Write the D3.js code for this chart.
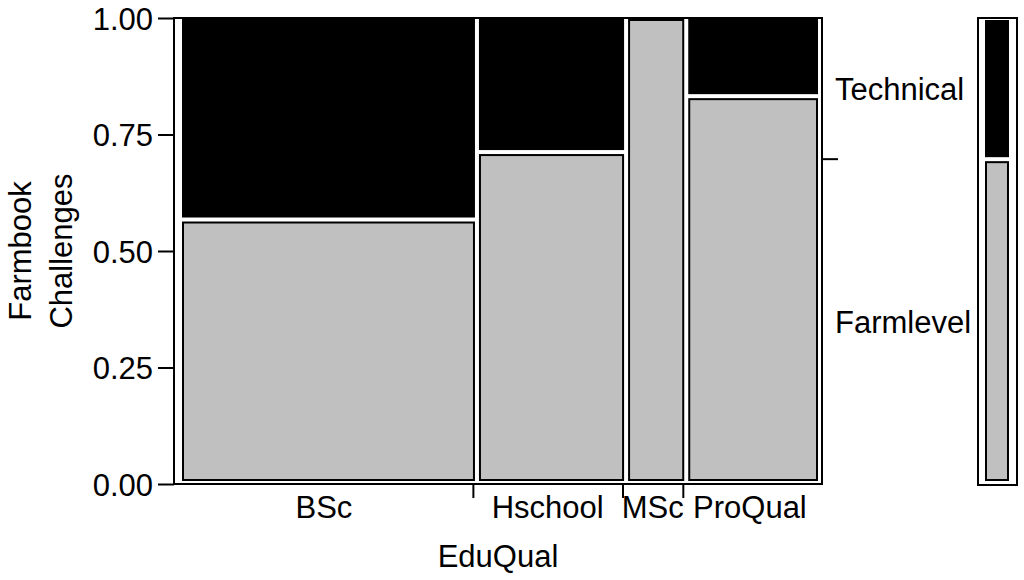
<!DOCTYPE html>
<html><head><meta charset="utf-8">
<script src="https://cdn.jsdelivr.net/npm/d3@7"></script>
<style>body{margin:0;background:#fff}svg{display:block}text{font-family:"Liberation Sans",Arial,sans-serif;fill:#000}</style>
</head><body><svg id="c" width="1024" height="580"></svg>
<script>
// Data
const categories = ["BSc", "Hschool", "MSc", "ProQual"];
const columnShare = [0.464, 0.233, 0.094, 0.209];      // share of EduQual
const farmlevelShare = [0.566, 0.712, 1.0, 0.833];    // share of Farmlevel within each EduQual
const levels = ["Farmlevel", "Technical"];
const yTicks = [0, 0.25, 0.5, 0.75, 1];
const xTitle = "EduQual";
const yTitle = ["Farmbook", "Challenges"];

const svg = d3.select("#c");
const FS = 31;
const cum = [0];
columnShare.forEach((s, i) => cum.push(cum[i] + s));
const overall = d3.sum(columnShare.map((s, i) => s * farmlevelShare[i]));

const frame = {x0: 174, x1: 822, y0: 18, y1: 484};
const yAxisScale = d3.scaleLinear().domain([0, 1]).range([frame.y1, frame.y0]);
const xTickScale = d3.scaleLinear().domain([0, 1]).range([175, 817]);
const xCell = d3.scaleLinear().domain([0, 1]).range([182, 822]);
const yCell = d3.scaleLinear().domain([0, 1]).range([481, 19]);
const gap = 4;

// cells
const g = svg.append("g");
categories.forEach((c, i) => {
  const x0 = xCell(cum[i]), x1 = xCell(cum[i + 1]) - gap;
  const yb = yCell(farmlevelShare[i]);
  if (farmlevelShare[i] < 1) {
    g.append("rect").attr("x", x0).attr("y", yCell(1)).attr("width", x1 - x0)
      .attr("height", yb - gap / 2 - yCell(1)).attr("fill", "#000");
  }
  const gt = farmlevelShare[i] < 1 ? yb + gap / 2 : yCell(1);
  g.append("rect").attr("x", x0 + 1).attr("y", gt + 1).attr("width", x1 - x0 - 2)
    .attr("height", yCell(0) - gt - 2).attr("fill", "#c0c0c0")
    .attr("stroke", "#000").attr("stroke-width", 2);
});

// frame
svg.append("rect").attr("x", frame.x0).attr("y", frame.y0)
  .attr("width", frame.x1 - frame.x0).attr("height", frame.y1 - frame.y0)
  .attr("fill", "none").attr("stroke", "#000").attr("stroke-width", 2);

// y axis
const ya = svg.append("g").attr("transform", `translate(${frame.x0},0)`)
  .call(d3.axisLeft(yAxisScale).tickValues(yTicks).tickFormat(d3.format(".2f")).tickSize(16).tickPadding(5));
ya.select(".domain").remove();
ya.selectAll(".tick line").attr("stroke", "#000").attr("stroke-width", 2);
ya.selectAll(".tick text").attr("font-size", FS).attr("font-family", "Liberation Sans, Arial, sans-serif")
  .attr("dy", null).attr("y", 11).attr("fill", "#000");

// x axis ticks at interior boundaries
const xa = svg.append("g").attr("transform", `translate(0,${frame.y1})`)
  .call(d3.axisBottom(xTickScale).tickValues(cum.slice(1, -1)).tickSize(14).tickFormat(""));
xa.select(".domain").remove();
xa.selectAll(".tick line").attr("stroke", "#000").attr("stroke-width", 2);

// category labels
svg.append("g").selectAll("text").data(categories).join("text")
  .attr("x", (d, i) => (xTickScale(cum[i]) + xTickScale(cum[i + 1])) / 2)
  .attr("y", 518).attr("text-anchor", "middle").attr("font-size", FS).text(d => d);

// axis titles
svg.append("text").attr("x", (frame.x0 + frame.x1) / 2).attr("y", 567)
  .attr("text-anchor", "middle").attr("font-size", FS).text(xTitle);
[31, 72].forEach((bx, i) => {
  svg.append("text").attr("transform", `translate(${bx},251) rotate(-90)`)
    .attr("text-anchor", "middle").attr("font-size", FS).text(yTitle[i]);
});

// right axis: level labels and tick
const yo = yCell(overall);
svg.append("line").attr("x1", frame.x1).attr("x2", 838).attr("y1", yo).attr("y2", yo)
  .attr("stroke", "#000").attr("stroke-width", 2);
svg.append("text").attr("x", 835).attr("y", (frame.y0 + yo) / 2 + 11)
  .attr("font-size", FS).text(levels[1]);
svg.append("text").attr("x", 835).attr("y", (yo + frame.y1) / 2 + 11)
  .attr("font-size", FS).text(levels[0]);

// marginal bar
svg.append("rect").attr("x", 978).attr("y", 18).attr("width", 39).attr("height", 467)
  .attr("fill", "none").attr("stroke", "#000").attr("stroke-width", 2);
svg.append("rect").attr("x", 985).attr("y", yCell(1) + 1).attr("width", 24)
  .attr("height", yo - gap / 2 - yCell(1) - 1).attr("fill", "#000");
svg.append("rect").attr("x", 986).attr("y", yo + gap / 2 + 1).attr("width", 22)
  .attr("height", yCell(0) - yo - gap / 2 - 2).attr("fill", "#c0c0c0")
  .attr("stroke", "#000").attr("stroke-width", 2);
</script></body></html>
